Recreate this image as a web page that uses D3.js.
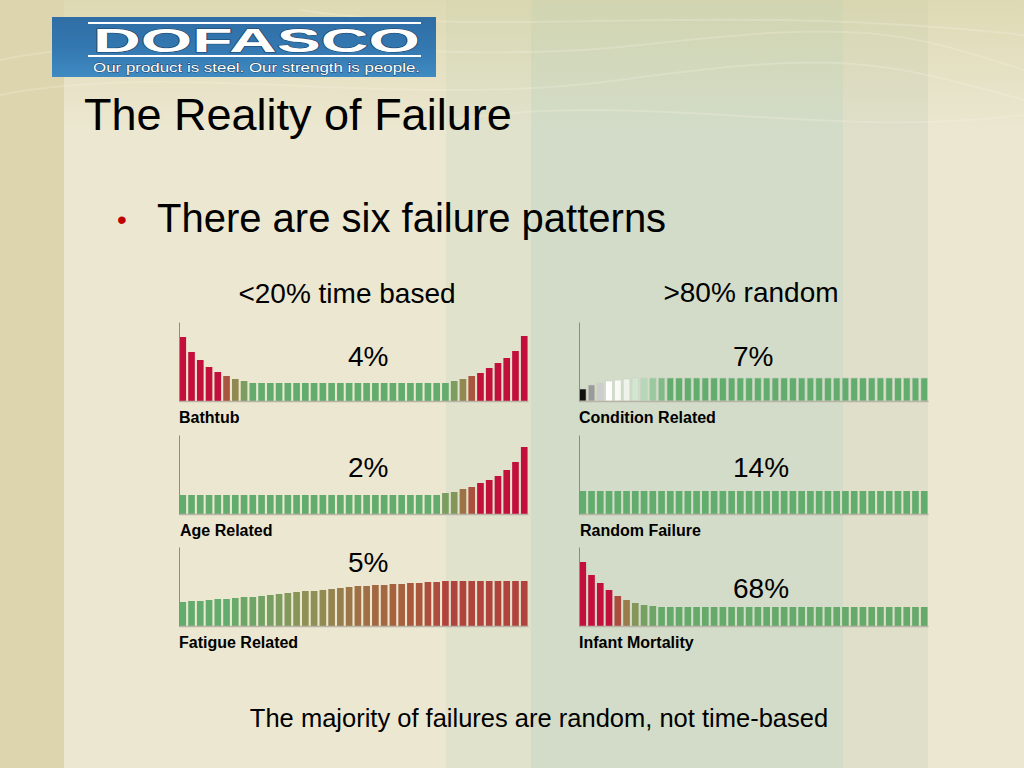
<!DOCTYPE html>
<html>
<head>
<meta charset="utf-8">
<script src="https://cdn.jsdelivr.net/npm/d3@7"></script>
<style>
  html, body { margin: 0; padding: 0; background: #ece7d0; }
  svg { display: block; font-family: "Liberation Sans", Arial, sans-serif; }
</style>
</head>
<body>
<svg id="chart"></svg>
<script>
// --- data (bar heights, arbitrary units, 40 bars each) ---
const bathtub = [64, 49, 41, 34, 29, 25, 22, 20, 18, 18,
  18, 18, 18, 18, 18, 18, 18, 18, 18, 18,
  18, 18, 18, 18, 18, 18, 18, 18, 18, 18,
  18, 20, 22, 25, 28, 33, 38, 43, 50, 65];
const conditionRelated = [12, 16, 18, 20, 21, 22, 23, 23, 23, 23,
  23, 23, 23, 23, 23, 23, 23, 23, 23, 23,
  23, 23, 23, 23, 23, 23, 23, 23, 23, 23,
  23, 23, 23, 23, 23, 23, 23, 23, 23, 23];
const ageRelated = [19, 19, 19, 19, 19, 19, 19, 19, 19, 19,
  19, 19, 19, 19, 19, 19, 19, 19, 19, 19,
  19, 19, 19, 19, 19, 19, 19, 19, 19, 19,
  21, 22, 25, 27, 31, 34, 38, 44, 52, 67];
const randomFailure = [23, 23, 23, 23, 23, 23, 23, 23, 23, 23,
  23, 23, 23, 23, 23, 23, 23, 23, 23, 23,
  23, 23, 23, 23, 23, 23, 23, 23, 23, 23,
  23, 23, 23, 23, 23, 23, 23, 23, 23, 23];
const fatigueRelated = [24, 25, 25, 26, 27, 27, 28, 29, 29, 30,
  31, 32, 33, 34, 35, 35, 36, 37, 38, 39,
  40, 40, 41, 41, 42, 42, 43, 43, 44, 44,
  45, 45, 45, 45, 45, 45, 45, 45, 45, 45];
const infantMortality = [64, 51, 43, 36, 30, 26, 23, 21, 20, 19,
  19, 19, 19, 19, 19, 19, 19, 19, 19, 19,
  19, 19, 19, 19, 19, 19, 19, 19, 19, 19,
  19, 19, 19, 19, 19, 19, 19, 19, 19, 19];

const patternNames = ["Bathtub", "Condition Related", "Age Related", "Random Failure", "Fatigue Related", "Infant Mortality"];
const patternShares = ["4%", "7%", "2%", "14%", "5%", "68%"];
const patternValues = [bathtub, conditionRelated, ageRelated, randomFailure, fatigueRelated, infantMortality];
const groupHeaders = ["<20% time based", ">80% random"];

const width = 1024, height = 768;
const svg = d3.select("#chart").attr("width", width).attr("height", height);

// fond de la diapo
const defs = svg.append("defs");
const topGrad = defs.append("linearGradient").attr("id", "topTint")
  .attr("x1", 0).attr("y1", 0).attr("x2", 0).attr("y2", 1);
topGrad.append("stop").attr("offset", "0%").attr("stop-color", "#d2cf9c").attr("stop-opacity", 0.55);
topGrad.append("stop").attr("offset", "100%").attr("stop-color", "#d2cf9c").attr("stop-opacity", 0);
const logoGrad = defs.append("linearGradient").attr("id", "logoBlue")
  .attr("x1", 0).attr("y1", 0).attr("x2", 0).attr("y2", 1);
logoGrad.append("stop").attr("offset", "0%").attr("stop-color", "#2f6da4");
logoGrad.append("stop").attr("offset", "55%").attr("stop-color", "#3479b2");
logoGrad.append("stop").attr("offset", "100%").attr("stop-color", "#3f8ac2");

const bands = [
  { x: 0, w: 64, c: "#dcd5ad" },
  { x: 64, w: 382, c: "#ece7d0" },
  { x: 446, w: 85, c: "#e1e2cc" },
  { x: 531, w: 312, c: "#d2dcc8" },
  { x: 843, w: 85, c: "#dfdfca" },
  { x: 928, w: 96, c: "#ebe7d1" }
];
svg.selectAll(".band").data(bands).enter().append("rect")
  .attr("class", "band")
  .attr("x", d => d.x).attr("y", 0)
  .attr("width", d => d.w).attr("height", height)
  .attr("fill", d => d.c);
svg.append("rect").attr("x", 64).attr("y", 0).attr("width", width - 64).attr("height", 130)
  .attr("fill", "url(#topTint)");

// traits clairs ondulés en haut
const waves = [
  "M0,60 C200,20 420,70 640,45 S900,30 1024,70",
  "M0,95 C180,60 400,110 620,80 S880,60 1024,100",
  "M300,10 C500,40 700,0 1024,35",
  "M450,120 C650,90 820,140 1024,115"
];
svg.selectAll(".wave").data(waves).enter().append("path")
  .attr("class", "wave")
  .attr("d", d => d)
  .attr("fill", "none")
  .attr("stroke", "#f6f3e4")
  .attr("stroke-width", 2)
  .attr("opacity", 0.25);

// logo
const logo = svg.append("g");
logo.append("rect").attr("x", 52).attr("y", 17).attr("width", 384).attr("height", 60)
  .attr("fill", "url(#logoBlue)");
[23, 56].forEach(y => logo.append("line")
  .attr("x1", 88).attr("x2", 421).attr("y1", y).attr("y2", y)
  .attr("stroke", "#ffffff").attr("stroke-width", 2));
logo.append("text").attr("x", 93).attr("y", 52)
  .attr("textLength", 327).attr("lengthAdjust", "spacingAndGlyphs")
  .attr("font-size", 33).attr("font-weight", "bold")
  .attr("fill", "#ffffff").attr("stroke", "#1d3f63").attr("stroke-width", 1)
  .attr("paint-order", "stroke")
  .text("DOFASCO");
logo.append("text").attr("x", 93).attr("y", 72)
  .attr("textLength", 327).attr("lengthAdjust", "spacingAndGlyphs")
  .attr("font-size", 13.5)
  .attr("fill", "#ffffff").attr("stroke", "#1d3f63").attr("stroke-width", 0.8)
  .attr("paint-order", "stroke")
  .text("Our product is steel. Our strength is people.");

// titres
svg.append("text").attr("x", 84).attr("y", 130)
  .attr("font-size", 45).attr("fill", "#000")
  .text("The Reality of Failure");
svg.append("text").attr("x", 117).attr("y", 229)
  .attr("font-size", 28).attr("fill", "#c00000")
  .text("•");
svg.append("text").attr("x", 157).attr("y", 232)
  .attr("font-size", 40).attr("fill", "#000")
  .text("There are six failure patterns");

svg.selectAll(".header").data(groupHeaders).enter().append("text")
  .attr("class", "header")
  .attr("x", (d, i) => i === 0 ? 347 : 751)
  .attr("y", (d, i) => i === 0 ? 303 : 302)
  .attr("text-anchor", "middle")
  .attr("font-size", 28)
  .text(d => d);

svg.append("text").attr("x", 539).attr("y", 727)
  .attr("text-anchor", "middle").attr("font-size", 25.5)
  .text("The majority of failures are random, not time-based");

// mini graphiques
const green = "#62ad6d", olive = "#8e9156", brown = "#a6623f", red = "#c20f3b";
const ramp = d3.scaleLinear().domain([0, 0.35, 0.65, 1])
  .range([green, olive, brown, red]).interpolate(d3.interpolateRgb).clamp(true);
const conditionRamp = d3.scaleLinear().domain([0, 1, 3, 5, 10])
  .range(["#111111", "#9a9a9a", "#ffffff", "#eef4ea", green]).clamp(true);

// plage de couleur par motif (valeur -> teinte)
const colourSpan = {
  "Bathtub": [18, 28],
  "Age Related": [19, 30],
  "Random Failure": [23, 24],
  "Fatigue Related": [27, 50],
  "Infant Mortality": [18.5, 34]
};

const panels = [
  { left: 179, base: 401, labelX: 179, pctX: 348, pctY: 366 },
  { left: 579, base: 401, labelX: 579, pctX: 733, pctY: 366 },
  { left: 179, base: 514, labelX: 180, pctX: 348, pctY: 477 },
  { left: 579, base: 514, labelX: 580, pctX: 733, pctY: 477 },
  { left: 179, base: 626, labelX: 179, pctX: 348, pctY: 572 },
  { left: 579, base: 626, labelX: 579, pctX: 733, pctY: 598 }
];
const panelW = 349, panelH = 79;

const x = d3.scaleBand().domain(d3.range(40)).range([0, panelW]).paddingInner(0.24).paddingOuter(0.05);
const y = d3.scaleLinear().domain([0, 79]).range([panelH, 0]);

patternNames.forEach((name, k) => {
  const p = panels[k];
  const values = patternValues[k];
  const g = svg.append("g").attr("transform", `translate(${p.left},${p.base - panelH})`);

  let colour;
  if (name === "Condition Related") {
    colour = (v, i) => conditionRamp(i);
  } else {
    const t = d3.scaleLinear().domain(colourSpan[name]).clamp(true);
    colour = v => ramp(t(v));
  }

  g.selectAll("rect").data(values).enter().append("rect")
    .attr("x", (d, i) => x(i))
    .attr("y", d => y(d))
    .attr("width", x.bandwidth())
    .attr("height", d => panelH - y(d))
    .attr("fill", (d, i) => colour(d, i))
    .attr("stroke", name === "Condition Related" ? "#c8d2c0" : "none")
    .attr("stroke-width", 0.6);

  // ligne de base
  g.append("g").attr("transform", `translate(0,${panelH})`)
    .call(d3.axisBottom(x).tickValues([]).tickSizeOuter(0))
    .call(a => a.select(".domain").attr("stroke", "#b9b3a6").attr("stroke-width", 1.5));
  // axe vertical
  g.append("g")
    .call(d3.axisLeft(y).tickValues([]).tickSizeOuter(0))
    .call(a => a.select(".domain").attr("stroke", "#8f8c80").attr("stroke-width", 1));

  svg.append("text").attr("x", p.pctX).attr("y", p.pctY)
    .attr("font-size", 28).text(patternShares[k]);
  svg.append("text").attr("x", p.labelX).attr("y", p.base + 22)
    .attr("font-size", 16).attr("font-weight", "bold").text(name);
});
</script>
</body>
</html>
